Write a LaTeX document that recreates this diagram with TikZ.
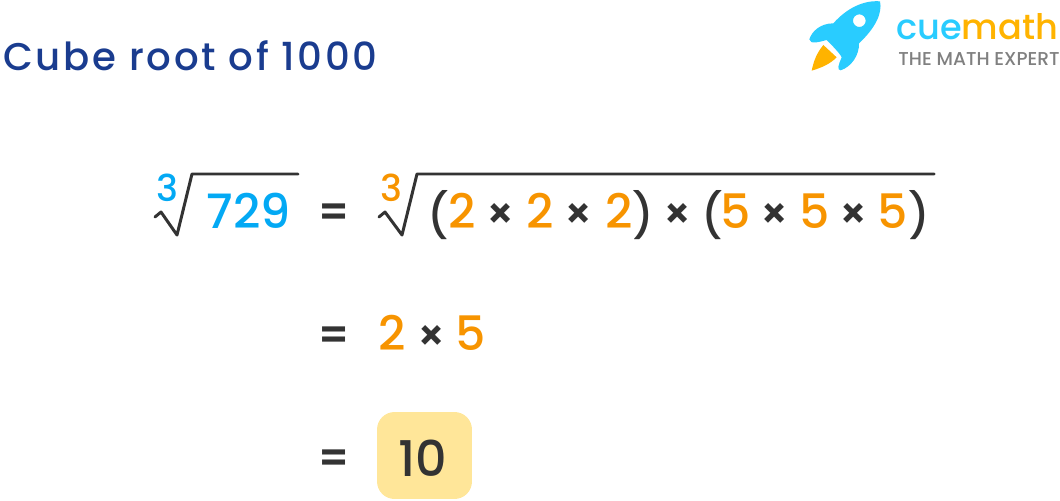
\documentclass[tikz,border=0pt]{standalone}
\usepackage{fontspec}
\setmainfont{Poppins Medium}
\newfontfamily\titlefont[LetterSpace=7.0]{Poppins Medium}
\newfontfamily\timesfont{Poppins SemiBold}
\definecolor{rootblue}{HTML}{03A9F4}
\definecolor{rootorange}{HTML}{F79400}
\definecolor{inkdark}{HTML}{333333}
\definecolor{titleblue}{HTML}{1A3C8F}
\definecolor{rocketblue}{HTML}{29CCFF}
\definecolor{flameorange}{HTML}{FFB300}
\definecolor{boxyellow}{HTML}{FFE699}
\tikzset{
  eq/.style={inner sep=0pt,text=inkdark,font=\fontsize{27}{27}\selectfont},
  bluenum/.style={eq,text=rootblue},
  orangenum/.style={eq,text=rootorange},
  opsign/.style={eq,font=\timesfont\fontsize{24}{24}\selectfont},
  paren/.style={eq,font=\fontsize{25}{25}\selectfont},
  rootline/.style={draw=inkdark,line width=1.7pt,line join=round,line cap=round},
  rootindex/.style={inner sep=0pt,font=\fontsize{21}{21}\selectfont},
}
\begin{document}
\begin{tikzpicture}[x=0.02cm,y=-0.02cm]
  \useasboundingbox (0,0) rectangle (1060,500);
  \node[anchor=west,inner sep=0pt,text=titleblue,font=\titlefont\fontsize{22}{22}\selectfont] (title) at (3,56) {Cube root of 1000};

  % logo
  \begin{scope}[shift={(790,0)},x=0.00667cm,y=-0.00667cm]
   \fill[flameorange] (65,212) .. controls (72,180) and (80,160) .. (100,135) -- (140,172) .. controls (120,192) and (95,203) .. (65,212) -- cycle;
   \fill[rocketblue,even odd rule] (270,4) .. controls (278,40) and (255,85) .. (207,130) .. controls (208,165) and (185,200) .. (152,211) .. controls (140,210) and (145,195) .. (155,172) .. controls (150,160) and (120,130) .. (110,120) .. controls (90,125) and (60,135) .. (58,118) .. controls (65,95) and (90,70) .. (130,70) .. controls (170,25) and (220,0) .. (270,4) -- cycle (208,62) circle (19);
  \end{scope}
  \node[anchor=base west,inner sep=0pt,font=\fontsize{20}{20}\selectfont] (brand) at (896,40) {\textcolor{rocketblue}{cue}\textcolor{flameorange}{math}};
  \node[anchor=base west,inner sep=0pt,text=black!50,font=\fontsize{10.6}{11}\selectfont] (slogan) at (898,66) {THE MATH EXPERT};

  % first row
  \node[bluenum] (n729) at (249,211) {729};
  \node[rootindex,text=rootblue] (idxa) at (167,188) {3};
  \node[rootindex,text=rootorange] (idxb) at (391,188) {3};
  \draw[rootline] (155,217) -- (161,212) -- (177,235) -- (192,174) -- (298,174);
  \draw[rootline] (379,217) -- (385,212) -- (402,235) -- (417,174) -- (934,174);
  \foreach \x/\sym/\name in {501/×/ta,579/×/tb,678/×/tc,775/×/td,854/×/te} {
   \node[opsign] (\name) at (\x,216) {\sym};
  }
  \foreach \x/\sym/\name in {438/(/pa,643/)/pb,712/(/pc,919/)/pd} {
   \node[paren] (\name) at (\x,215) {\sym};
  }
  \foreach \x/\num/\name in {462/2/ca,540/2/cb,619/2/cc,736/5/cd,815/5/ce,893/5/cf} {
   \node[orangenum] (\name) at (\x,211) {\num};
  }

  % equals signs
  \foreach \y/\name in {215/eqa,338/eqb,461/eqc} {
   \node[opsign] (\name) at (334,\y) {=};
  }

  % second row
  \node[orangenum] (two) at (392,333) {2};
  \node[opsign] (times) at (432,338) {×};
  \node[orangenum] (five) at (471,333) {5};

  % result
  \node[fill=boxyellow,rounded corners=10pt,minimum width=1.9cm,minimum height=1.74cm,inner sep=0pt] (resbox) at (424.5,455.5) {};
  \node[eq,font=\fontsize{28}{28}\selectfont] (res) at (423,458) {10};
\end{tikzpicture}
\end{document}
